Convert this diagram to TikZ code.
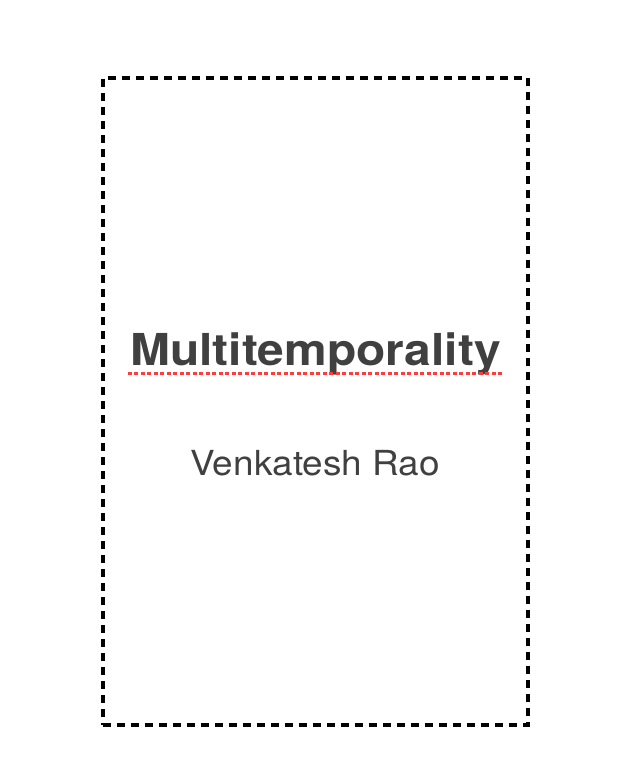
\documentclass[tikz,border=0pt]{standalone}
\usepackage{fontspec}
\setmainfont{TeX Gyre Heros}
\newfontfamily\titlefont[FakeStretch=1.09]{TeX Gyre Heros}
\newfontfamily\authorfont[FakeStretch=1.07]{TeX Gyre Heros}
\usepackage{xcolor}
\usetikzlibrary{positioning}
\definecolor{inkgrey}{HTML}{404040}
\definecolor{spellred}{HTML}{FF3B3B}

\begin{document}
\begin{tikzpicture}[x=1pt,y=-1pt,
	cardframe/.style={draw,line width=3.5pt,dash pattern=on 8pt off 6pt,minimum width=425pt,minimum height=647pt,inner sep=0pt},
	titletext/.style={text=inkgrey,font=\titlefont\fontsize{44}{48}\selectfont\bfseries,inner sep=0pt},
	authortext/.style={text=inkgrey,font=\authorfont\fontsize{34.5}{38}\selectfont,inner sep=0pt}]
		\useasboundingbox (0,0) rectangle (622,780);
		\node[cardframe] (card) at (315.5,401.5) {};
		%
		\node[titletext,anchor=base] (title) at (315.5,365) {Multitemporality};
		\node[authortext,anchor=base] (author) at (315,475) {Venkatesh Rao};
		%
		\draw[spellred,line width=3pt,dash pattern=on 4pt off 2.5pt]
		([xshift=-2pt,yshift=-8pt]title.base west) -- ([xshift=2pt,yshift=-8pt]title.base east);
	\end{tikzpicture}
\end{document}
